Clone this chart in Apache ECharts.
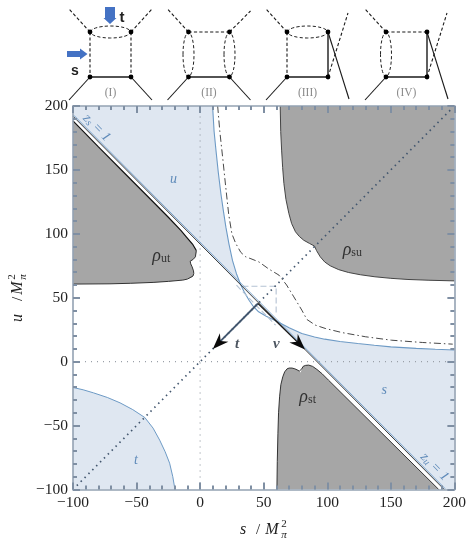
<!DOCTYPE html>
<html><head><meta charset="utf-8">
<style>html,body{margin:0;padding:0;background:#fff}#c{width:469px;height:540px}</style>
<script src="https://cdn.jsdelivr.net/npm/echarts@6/dist/echarts.min.js"></script>
</head><body><div id="c"></div>
<script>
// ---- data (s, u in M_pi^2) ----
const tickStep = 50;
const rhoUt = [[-100,188.4],[-80,168],[-60,148],[-40,128],[-25,113],[-15,102.5],[-10.9,97.7],[-6,92],[-3,87],[-2.9,85.5],[-3.7,82],[-5.5,80],[-7.8,78.6],[-7.4,76.5],[-6.3,74.2],[-5.2,71],[-5,69],[-5.6,67],[-7,65.6],[-10,64.6],[-13.6,63.8],[-25,62.8],[-37,62],[-55,61.3],[-70.9,60.9],[-100,60.7]];
const rhoSu = [[63,200],[63.4,180],[64.1,165.5],[64.9,152],[65.9,139.4],[67.5,127],[69.8,116],[72,108],[75,101.6],[78,98],[81.5,95],[86,92.5],[90,90.4],[91.5,87],[94.5,82],[98,78],[102.3,75],[109,72],[116.6,69.8],[126,68],[137.5,66.4],[150,65.2],[163.5,64.3],[180,63.7],[200,63.2]];
const rhoSuCorner = [[200,200]];
const rhoSt = [[60.4,-100],[60.7,-78],[61.2,-56],[61.7,-40],[62.5,-27.5],[63.5,-18],[65,-11.9],[66.5,-8],[68.4,-5.6],[70,-5],[72.3,-5],[74.5,-5.6],[76.3,-6.4],[78,-7.4],[79.1,-8.5],[80,-5.6],[81,-3.7],[83,-2.9],[85.4,-2.7],[88.5,-3.7],[91.9,-6.1],[96,-9.5],[101,-14.5],[187.7,-100]];
const upperBlue = [[9.8,200],[11,180],[12.5,165],[14.3,148],[16.4,131],[18.3,118],[20.3,105],[22.7,92],[25.5,79],[28.5,69],[32,60]];
const middleBlue = [[32,60],[35,54],[38.5,48],[42,43],[46,39],[52,35.5],[60.6,31.5]];
const lowerBlue = [[60.6,31.5],[70,26.5],[80,22],[90,19.3],[98,17.6],[110,15.8],[124,14.2],[137,12.8],[150,11.6],[170,10.4],[185,9.7],[200,9.1]];
const tCurve = [[-100,-20.2],[-92,-22],[-83.9,-24.4],[-73,-28],[-63,-32.2],[-53,-37.5],[-43.5,-43.7],[-37,-52],[-31.8,-61.4],[-27.5,-70.5],[-24,-79.4],[-21.5,-90],[-19.8,-100]];
const dashDot = [[13.8,200],[15.5,180],[17.7,160],[20,138],[22.5,115],[25,100],[28,92.5],[32,85.5],[35.9,82],[40,80.5],[46.3,78],[54,72.5],[62,67.7],[68,60],[73.7,50.7],[80,40.3],[84,33],[90.6,28.6],[98.4,26],[111.4,22.8],[130,19.5],[150.5,16.8],[175,15],[198.7,13.7]];
const zsLine = [[-100,192],[192,-100]];
const symLine = [[-97,-97],[197,197]];
const zeroV = [[0,-100],[0,200]];
const zeroH = [[-100,0],[200,0]];
const boxDash = [[33.3,59],[59.8,59],[59.8,36.4]];
const innerDiag = [[28.6,59.8],[59.4,28.5]];
const arrowT = [[45.5,45.5],[10,10]];
const arrowNu = [[45.5,45.5],[82.5,9.5]];
const regionLabels = [
 {name:'u',at:[-20.9,142.8]},{name:'s',at:[144.8,-22.3]},{name:'t',at:[-50.5,-77]}
];
const rhoLabels = [
 {name:'ut',at:[-30.5,82.5]},{name:'su',at:[119.7,87.2]},{name:'st',at:[84.6,-27.5]}
];
const arrowLabels = [{name:'t',at:[29.1,13.5]},{name:'ν',at:[59.9,13.7]}];
const zLabels = [{name:'s',at:[-81.3,183]},{name:'u',at:[184.4,-82.3]}];

const GRAY='#a6a6a6', FILL='#dfe7f1', BLUE='#6d9ac5', FRAME='#94a2b3', TICK='#7f8fa3', SLATE='#42566e';
const SERIF='"Liberation Serif","DejaVu Serif",serif';

function poly(pts, fill, z){
  return {type:'custom',coordinateSystem:'cartesian2d',data:pts,z:z||1,silent:true,clip:true,
    encode:{x:0,y:1},
    renderItem:(p,api)=> p.dataIndex!==0 ? null : ({type:'polygon',
      shape:{points:pts.map(q=>api.coord(q))},style:{fill:fill,stroke:null}})};
}
function line(pts,color,width,type,z,extra){
  return Object.assign({type:'line',data:pts,showSymbol:false,silent:true,z:z||3,
    lineStyle:{color:color,width:width,type:type||'solid',cap:type==='dotted'?'round':'butt'},
    animation:false},extra||{});
}
function arrow(pts,color,width){
  return {type:'custom',coordinateSystem:'cartesian2d',data:pts,z:6,silent:true,encode:{x:0,y:1},
    renderItem:(p,api)=>{
      if(p.dataIndex!==0) return null;
      const a=api.coord(pts[0]),b=api.coord(pts[1]);
      const dx=b[0]-a[0],dy=b[1]-a[1],n=Math.hypot(dx,dy),ux=dx/n,uy=dy/n,vx=-uy,vy=ux;
      const at=(l,w)=>[b[0]-ux*l+vx*w,b[1]-uy*l+vy*w];
      return {type:'group',children:[
        {type:'line',shape:{x1:a[0],y1:a[1],x2:at(8,0)[0],y2:at(8,0)[1]},style:{stroke:color,lineWidth:width}},
        {type:'polygon',shape:{points:[[b[0],b[1]],at(16,6),at(11,0),at(16,-6)]},style:{fill:'#0a0a0a'}}
      ]};
    }};
}
function labelSeries(items,fmt,rich,color,extra){
  return {type:'scatter',symbolSize:0,z:8,silent:true,
    data:items.map(d=>({value:d.at,name:d.name})),
    label:Object.assign({show:true,position:'inside',formatter:fmt,rich:rich,color:color},extra||{})};
}

const series=[
 poly(rhoUt,GRAY),poly(rhoSu.concat(rhoSuCorner),GRAY),poly(rhoSt,GRAY),
 poly([[-100,200]].concat(upperBlue,[[-100,192]]),FILL),
 poly(lowerBlue.concat([[200,-100],[192,-100]]),FILL),
 poly(tCurve.concat([[-100,-100]]),FILL),
 line(rhoUt.slice(8),'#333',1,'solid',3),
 line(rhoUt.slice(0,9),'#111',1.2,'solid',3),
 line(rhoSu,'#444',1,'solid',3),
 line(rhoSt,'#333',1,'solid',3),
 line(upperBlue,BLUE,1.1),line(middleBlue,BLUE,1.1),line(lowerBlue,BLUE,1.1),line(tCurve,BLUE,1),
 line(dashDot,'#333',0.9,[7,3,1.5,3]),
 line(zsLine.map(p=>[p[0]+0.7,p[1]+0.7]),BLUE,0.9,'solid',4),
 line(zsLine,'#2a2a2a',0.9,'solid',5),
 line(zeroV,'#9aa0a8',1.2,[1,5],2),
 line(zeroH,'#9aa0a8',1.2,[1,5],2),
 line(symLine,SLATE,1.7,[1.5,4],5),
 line(boxDash,'#b4c2d3',1.1,[6,3],3),
 line(innerDiag,'#b4c2d3',1.1,[6,3],3),
 arrow(arrowT,SLATE,1.8),
 arrow(arrowNu,'#1a1a1a',1.2),
 labelSeries(regionLabels,p=>'{a|'+p.name+'}',{a:{fontFamily:SERIF,fontStyle:'italic',fontSize:14,color:'#3f73ab'}},'#3f73ab'),
 labelSeries(rhoLabels,p=>'{r|ρ}{b|'+p.name+'}',{r:{fontFamily:SERIF,fontStyle:'italic',fontSize:18,color:'#111'},b:{fontFamily:SERIF,fontSize:12,color:'#111',verticalAlign:'bottom',padding:[6,0,0,0]}},'#111'),
 labelSeries(arrowLabels,p=>'{a|'+p.name+'}',{a:{fontFamily:SERIF,fontStyle:'italic',fontWeight:'bold',fontSize:15,color:'#1f2a38'}},'#1f2a38'),
 labelSeries(zLabels,p=>'{a|z}{b|'+p.name+'}{a| = 1}',{a:{fontFamily:SERIF,fontStyle:'italic',fontSize:14,color:'#3f73ab'},b:{fontFamily:SERIF,fontStyle:'italic',fontSize:10,color:'#3f73ab',padding:[5,0,0,0]}},'#3f73ab',{rotate:-45})
];

const tickFmt=v=>v<0?'\u2212'+(-v):''+v;
function axis(pos,show){return {type:'value',position:pos,min:-100,max:200,interval:tickStep,z:10,
  axisLine:{show:true,onZero:false,lineStyle:{color:FRAME,width:1.6}},
  axisTick:{show:true,inside:true,length:7,lineStyle:{color:TICK,width:2}},
  minorTick:{show:true,splitNumber:5,length:4,lineStyle:{color:TICK,width:2}},
  splitLine:{show:false},minorSplitLine:{show:false},
  axisLabel:{show:show,formatter:tickFmt,fontFamily:SERIF,fontSize:15.5,color:'#222',margin:5}};}

const diagOffsets=[0,98.5,197,296];
function seg(x1,y1,x2,y2,dash,w){return {type:'line',shape:{x1,y1,x2,y2},style:{stroke:'#1a1a1a',lineWidth:w||1.1,lineDash:dash?[3.2,2.2]:null}};}
function ell(cx,cy,rx,ry){return {type:'ellipse',shape:{cx,cy,rx,ry},style:{fill:null,stroke:'#222',lineWidth:1,lineDash:[3.2,2.2]}};}
function dot(x,y){return {type:'circle',shape:{cx:x,cy:y,r:2.4},style:{fill:'#000'},z2:5};}
const graphics=[];
['I','II','III','IV'].forEach((nm,i)=>{
  const L=90+diagOffsets[i],R=L+41,T=32,B=77,kids=[];
  kids.push(seg(L,T,L-21,9,true));
  kids.push(seg(L,B,L-21,100,false));
  if(i<2){ kids.push(seg(R,T,R+21,i===0?9:11,true)); kids.push(seg(R,B,R+21,100,false)); }
  else { kids.push(seg(R,B,R+20,13,true)); kids.push(seg(R,T,R+21,99,false)); kids.push(seg(R,T,R,B,false,1.4)); }
  if(i===0) kids.push(seg(R,T,R,B,true));
  if(i===1) kids.push(ell(R,(T+B)/2,5.5,22));
  kids.push(seg(L,B,R,B,false,1.4));
  if(i===0||i===2){ kids.push(ell((L+R)/2,T,20,6)); } else { kids.push(seg(L,T,R,T,true)); }
  if(i===1||i===3){ kids.push(ell(L,(T+B)/2,5.5,22)); } else { kids.push(seg(L,T,L,B,true)); }
  [[L,T],[R,T],[L,B],[R,B]].forEach(p=>kids.push(dot(p[0],p[1])));
  kids.push({type:'text',style:{x:(L+R)/2,y:93,text:'('+nm+')',align:'center',verticalAlign:'middle',font:'11.5px '+SERIF,fill:'#8a8a8a'}});
  graphics.push({type:'group',children:kids});
});
const ABLUE='#4472c4';
graphics.push({type:'polygon',shape:{points:[[105,7],[115,7],[115,18],[116.5,18],[110,24],[103.5,18],[105,18]]},style:{fill:ABLUE}});
graphics.push({type:'polygon',shape:{points:[[67,51],[80,51],[80,48.5],[87.5,54],[80,59.5],[80,57],[67,57]]},style:{fill:ABLUE}});
graphics.push({type:'text',style:{x:122,y:18,text:'t',align:'center',verticalAlign:'middle',font:'bold 15px "Liberation Sans",sans-serif',fill:'#222'}});
graphics.push({type:'text',style:{x:75,y:71,text:'s',align:'center',verticalAlign:'middle',font:'bold 14px "Liberation Sans",sans-serif',fill:'#222'}});
function axisName(x,y,rot,v,o){
  return {type:'group',x:x,y:y,rotation:rot,children:[
   {type:'text',style:{x:o[0],y:0,text:v,align:'center',verticalAlign:'middle',font:'italic 16px '+SERIF,fill:'#222'}},
   {type:'text',style:{x:o[1],y:0,text:'/',align:'center',verticalAlign:'middle',font:'15px '+SERIF,fill:'#222'}},
   {type:'text',style:{x:o[2],y:0,text:'M',align:'center',verticalAlign:'middle',font:'italic 16px '+SERIF,fill:'#222'}},
   {type:'text',style:{x:o[3],y:5,text:'π',align:'center',verticalAlign:'middle',font:'italic 11px '+SERIF,fill:'#222'}},
   {type:'text',style:{x:o[3],y:-6,text:'2',align:'center',verticalAlign:'middle',font:'11px '+SERIF,fill:'#222'}}
  ]};
}
graphics.push(axisName(266,530,0,'s',[-23,-8,6,18]));
graphics.push(axisName(18,300,Math.PI/2,'u',[-18,1,12,23]));

const chart=echarts.init(document.getElementById('c'),null,{renderer:'canvas'});
chart.setOption({animation:false,backgroundColor:'#fff',
  grid:{left:73,right:12,top:106,bottom:50.5,containLabel:false},
  xAxis:[axis('bottom',true),axis('top',false)],
  yAxis:[axis('left',true),axis('right',false)],
  series:series,graphic:{elements:graphics}});
</script></body></html>
